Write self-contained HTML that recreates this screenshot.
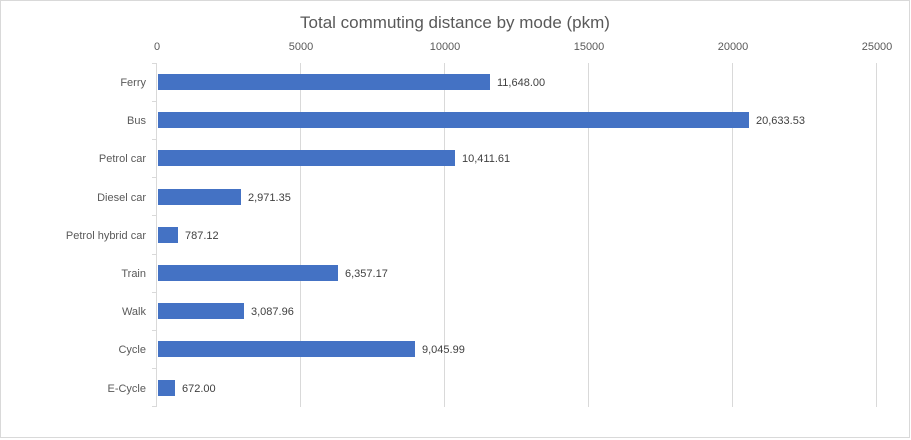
<!DOCTYPE html>
<html><head><meta charset="utf-8"><style>
html,body{margin:0;padding:0;background:#fff;}
svg{display:block;font-family:"Liberation Sans",sans-serif;}
</style></head><body>
<svg width="911" height="440" xmlns="http://www.w3.org/2000/svg">
<rect x="0.5" y="0.5" width="909" height="437" fill="#fff" stroke="#d9d9d9"/>
<text x="455" y="28" font-size="17" fill="#595959" text-anchor="middle">Total commuting distance by mode  (pkm)</text>
<g stroke="#d9d9d9" stroke-width="1">
<line x1="300.5" y1="63" x2="300.5" y2="407"/>
<line x1="444.5" y1="63" x2="444.5" y2="407"/>
<line x1="588.5" y1="63" x2="588.5" y2="407"/>
<line x1="732.5" y1="63" x2="732.5" y2="407"/>
<line x1="876.5" y1="63" x2="876.5" y2="407"/>
<line x1="156.5" y1="63" x2="156.5" y2="407"/>
<line x1="152" y1="63.5" x2="156" y2="63.5"/>
<line x1="152" y1="101.5" x2="156" y2="101.5"/>
<line x1="152" y1="139.5" x2="156" y2="139.5"/>
<line x1="152" y1="177.5" x2="156" y2="177.5"/>
<line x1="152" y1="215.5" x2="156" y2="215.5"/>
<line x1="152" y1="254.5" x2="156" y2="254.5"/>
<line x1="152" y1="292.5" x2="156" y2="292.5"/>
<line x1="152" y1="330.5" x2="156" y2="330.5"/>
<line x1="152" y1="368.5" x2="156" y2="368.5"/>
<line x1="152" y1="406.5" x2="156" y2="406.5"/>
</g>
<g font-size="11" fill="#595959" text-anchor="middle">
<text x="157" y="50">0</text><text x="301" y="50">5000</text><text x="445" y="50">10000</text>
<text x="589" y="50">15000</text><text x="733" y="50">20000</text><text x="877" y="50">25000</text>
</g>
<g font-size="11" fill="#595959" text-anchor="end">
<text x="146" y="86">Ferry</text><text x="146" y="124">Bus</text><text x="146" y="162">Petrol car</text>
<text x="146" y="201">Diesel car</text><text x="146" y="239">Petrol hybrid car</text><text x="146" y="277">Train</text>
<text x="146" y="315">Walk</text><text x="146" y="353">Cycle</text><text x="146" y="392">E-Cycle</text>
</g>
<g fill="#4472c4">
<rect x="158" y="74" width="332" height="16"/>
<rect x="158" y="112" width="591" height="16"/>
<rect x="158" y="150" width="297" height="16"/>
<rect x="158" y="189" width="83" height="16"/>
<rect x="158" y="227" width="20" height="16"/>
<rect x="158" y="265" width="180" height="16"/>
<rect x="158" y="303" width="86" height="16"/>
<rect x="158" y="341" width="257" height="16"/>
<rect x="158" y="380" width="17" height="16"/>
</g>
<g font-size="11" fill="#404040">
<text x="497" y="86">11,648.00</text><text x="756" y="124">20,633.53</text><text x="462" y="162">10,411.61</text>
<text x="248" y="201">2,971.35</text><text x="185" y="239">787.12</text><text x="345" y="277">6,357.17</text>
<text x="251" y="315">3,087.96</text><text x="422" y="353">9,045.99</text><text x="182" y="392">672.00</text>
</g>
</svg>
</body></html>
